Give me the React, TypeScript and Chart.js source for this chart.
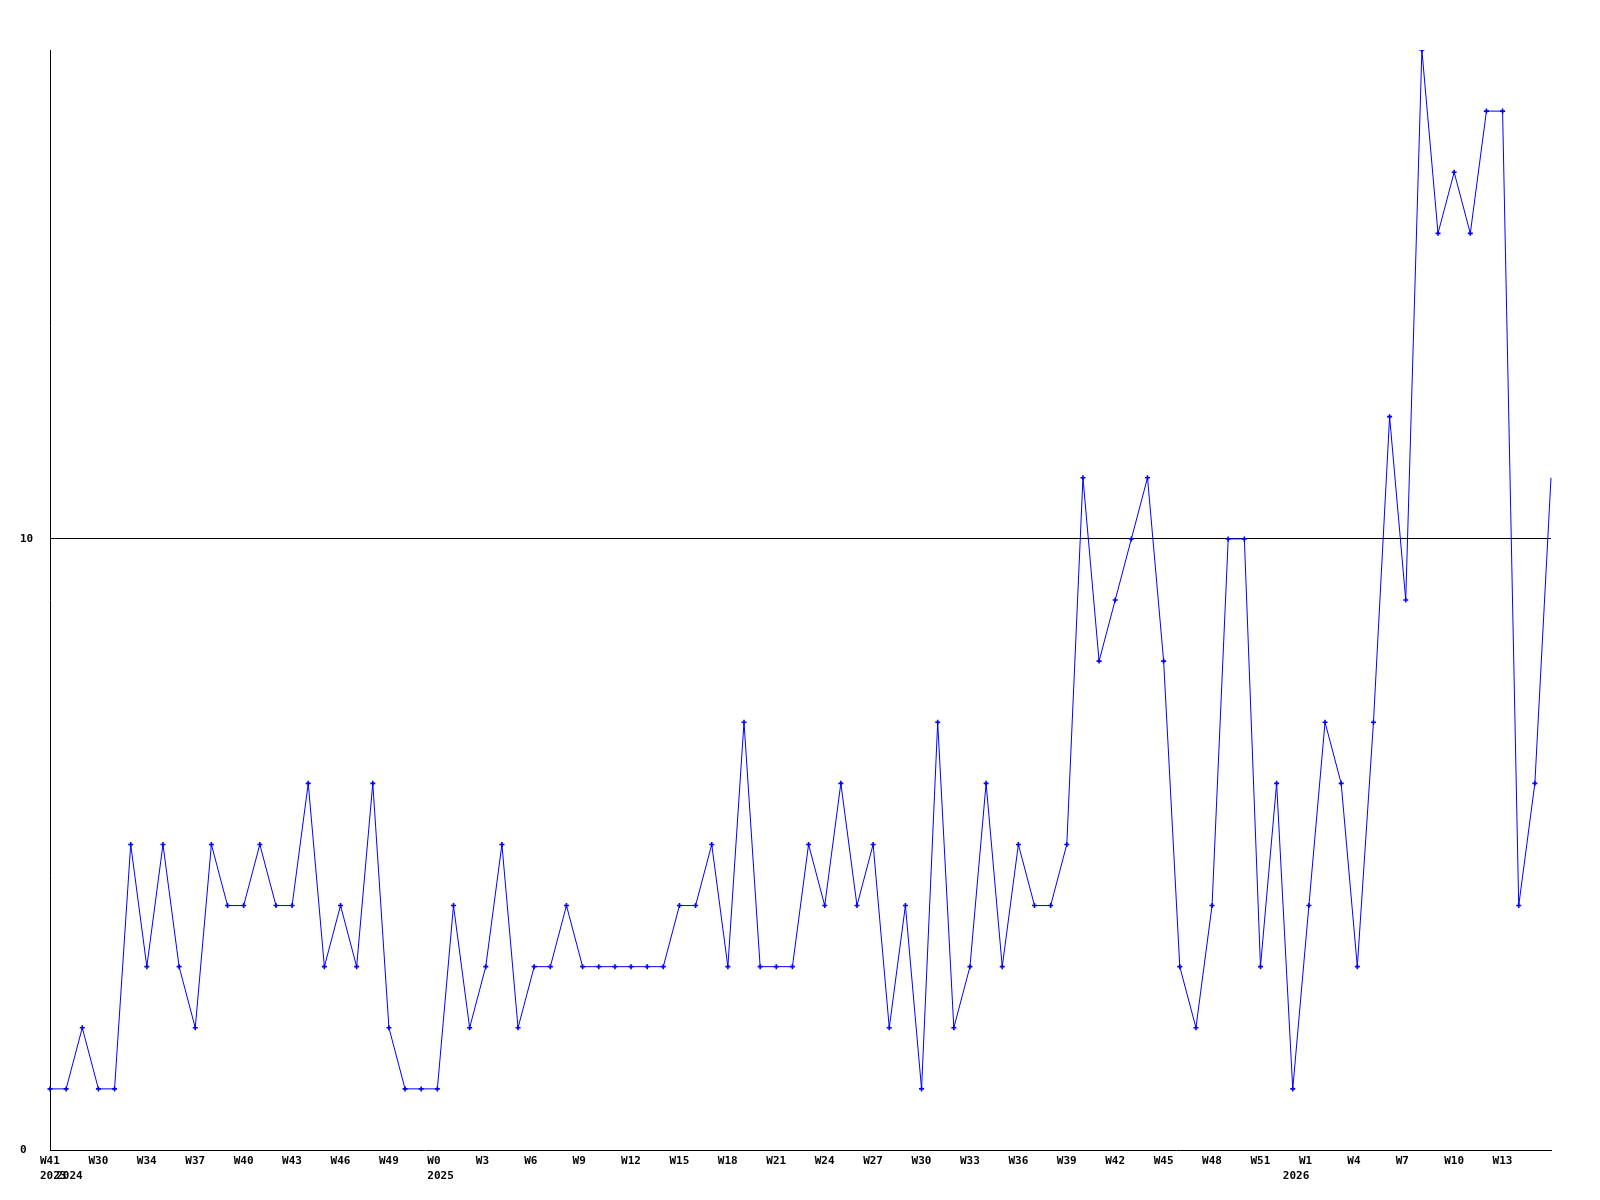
import React, { useEffect, useRef } from "react";
import { Chart, registerables } from "chart.js";

Chart.register(...registerables);

const values = [
  1, 1, 2, 1, 1, 5, 3, 5, 3, 2,
  5, 4, 4, 5, 4, 4, 6, 3, 4, 3,
  6, 2, 1, 1, 1, 4, 2, 3, 5, 2,
  3, 3, 4, 3, 3, 3, 3, 3, 3, 4,
  4, 5, 3, 7, 3, 3, 3, 5, 4, 6,
  4, 5, 2, 4, 1, 7, 2, 3, 6, 3,
  5, 4, 4, 5, 11, 8, 9, 10, 11, 8,
  3, 2, 4, 10, 10, 3, 6, 1, 4, 7,
  6, 3, 7, 12, 9, 18, 15, 16, 15, 17,
  17, 4, 6, 11,
];

const weekTickIdx = [0, 3, 6, 9, 12, 15, 18, 21, 24, 27, 30, 33, 36, 39, 42, 45, 48, 51, 54, 57, 60, 63, 66, 69, 72, 75, 78, 81, 84, 87, 90];
const weekTickText = ["W41", "W30", "W34", "W37", "W40", "W43", "W46", "W49", "W0", "W3", "W6", "W9", "W12", "W15", "W18", "W21", "W24", "W27", "W30", "W33", "W36", "W39", "W42", "W45", "W48", "W51", "W1", "W4", "W7", "W10", "W13"];
const yearTickIdx = [0, 1, 24, 77];
const yearTickText = ["2023", "2024", "2025", "2026"];

const yTicks = [0, 10];

function buildLabels(): string[][] {
  const labels: string[][] = values.map(() => ["", ""]);
  weekTickIdx.forEach((idx, i) => { labels[idx][0] = weekTickText[i]; });
  yearTickIdx.forEach((idx, i) => { labels[idx][1] = yearTickText[i]; });
  return labels;
}

export default function App() {
  const ref = useRef<HTMLCanvasElement>(null);
  useEffect(() => {
    if (!ref.current) return;
    const font = { family: "'DejaVu Sans Mono', monospace", size: 11, weight: "bold" as const, lineHeight: "15px" };
    const chart = new Chart(ref.current, {
      type: "line",
      data: {
        labels: buildLabels(),
        datasets: [
          {
            data: values,
            borderColor: "#0000ff",
            backgroundColor: "#0000ff",
            borderWidth: 1,
            pointStyle: "cross",
            pointRadius: values.map((_, i) => (i === values.length - 1 ? 0 : 2.5)),
            pointBorderWidth: 1.6,
            pointBorderColor: "#0000ff",
            tension: 0,
            fill: false,
          },
        ],
      },
      options: {
        animation: false,
        responsive: false,
        maintainAspectRatio: false,
        layout: { padding: { left: 12, top: 42, right: 41, bottom: 0 } },
        plugins: { legend: { display: false }, tooltip: { enabled: false } },
        scales: {
          x: {
            type: "category",
            offset: false,
            grid: { display: false, drawTicks: false },
            border: { display: true, color: "#000", width: 1 },
            ticks: {
              autoSkip: false,
              maxRotation: 0,
              minRotation: 0,
              align: "start",
              labelOffset: -10,
              padding: 4,
              color: "#000",
              font,
            },
            afterFit: (s: any) => { s.height = 42; },
          },
          y: {
            type: "linear",
            min: 0,
            max: 18,
            grid: {
              drawTicks: false,
              color: (c: any) => (c.tick && c.tick.value === yTicks[1] ? "#000" : "rgba(0,0,0,0)"),
              lineWidth: 1,
            },
            border: { display: true, color: "#000", width: 1 },
            ticks: {
              stepSize: yTicks[1] - yTicks[0],
              includeBounds: false,
              crossAlign: "far",
              color: "#000",
              font,
            },
            afterFit: (s: any) => { s.width = 30; },
          },
        },
      },
    });
    return () => chart.destroy();
  }, []);
  return <canvas ref={ref} width={1584} height={1184} style={{ display: "block" }} />;
}
